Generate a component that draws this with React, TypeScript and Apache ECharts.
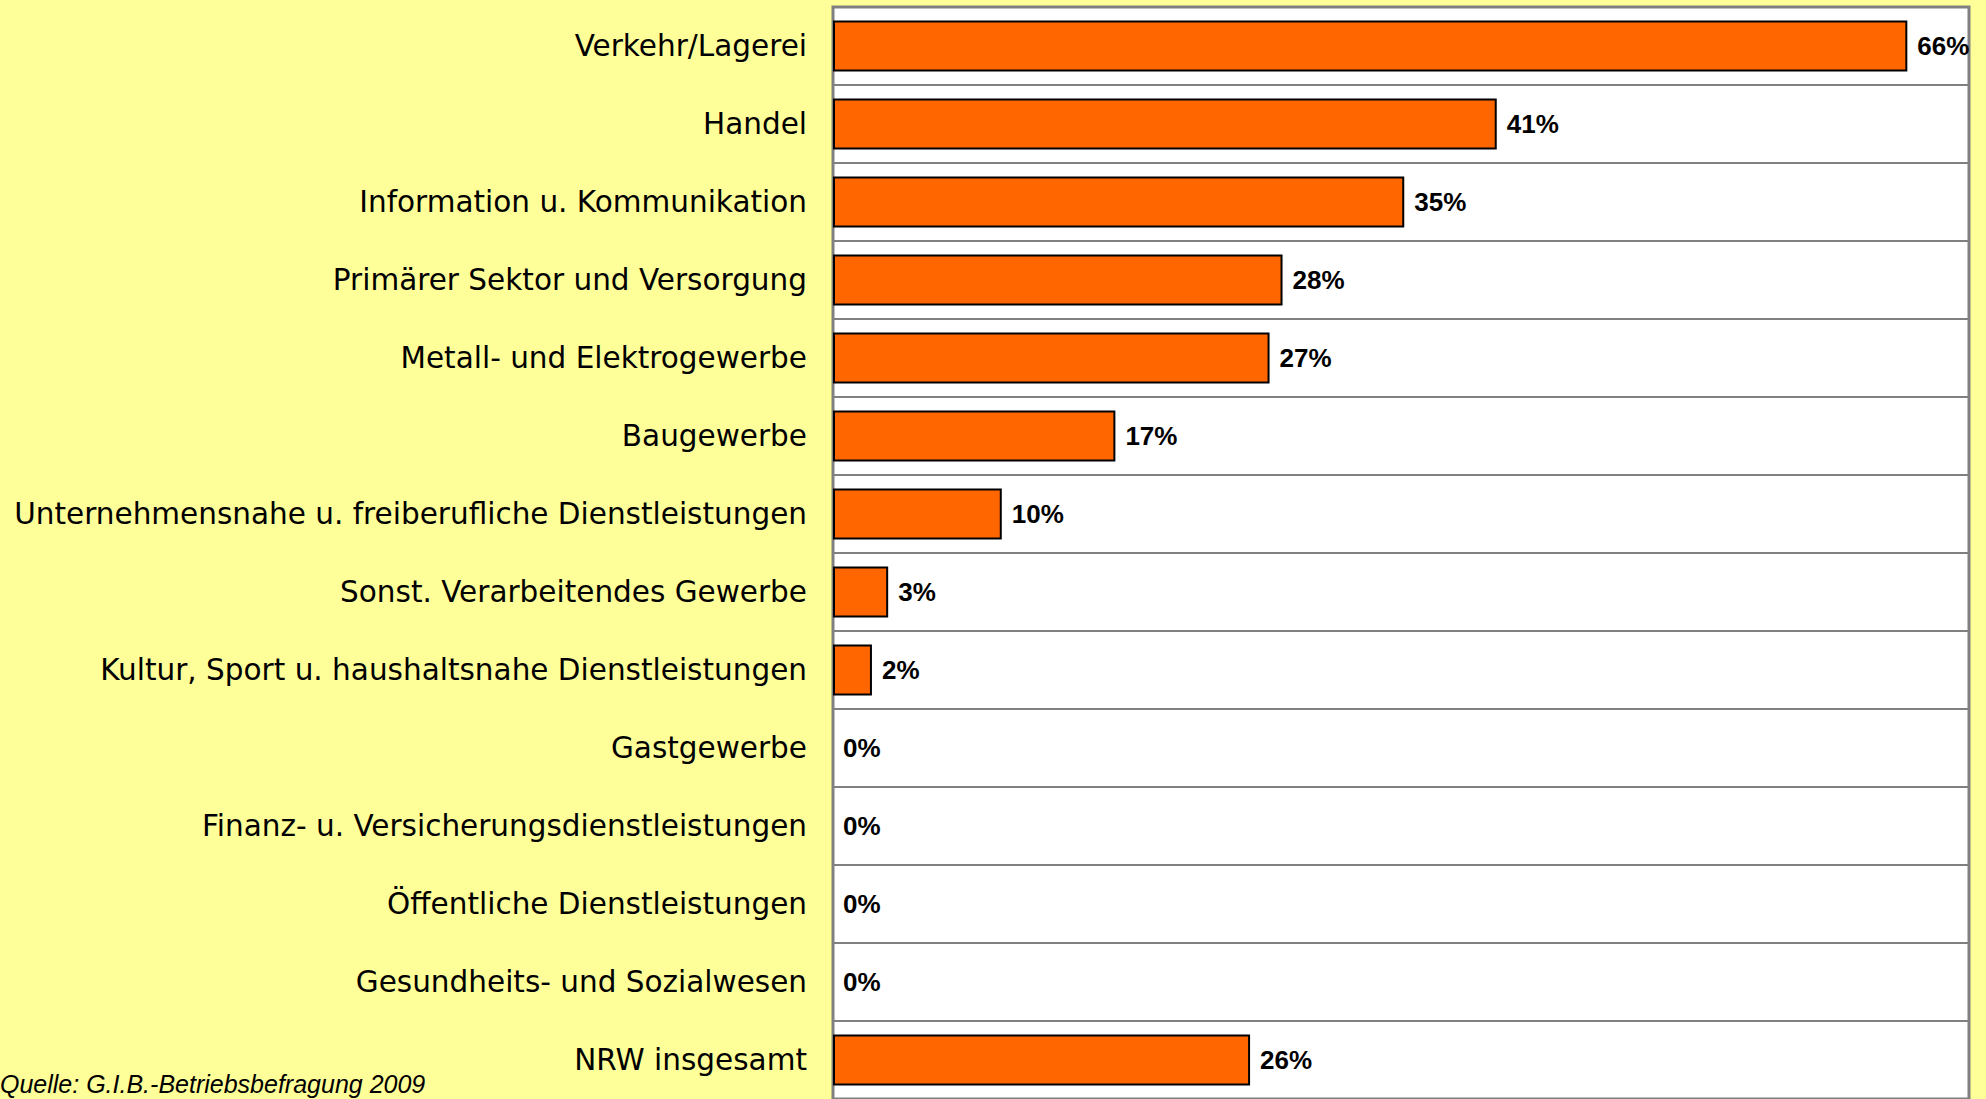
import React, { useEffect, useRef } from "react";
import * as echarts from "echarts";

const categories = [
  "Verkehr/Lagerei",
  "Handel",
  "Information u. Kommunikation",
  "Primärer Sektor und Versorgung",
  "Metall- und Elektrogewerbe",
  "Baugewerbe",
  "Unternehmensnahe u. freiberufliche Dienstleistungen",
  "Sonst. Verarbeitendes Gewerbe",
  "Kultur, Sport u. haushaltsnahe Dienstleistungen",
  "Gastgewerbe",
  "Finanz- u. Versicherungsdienstleistungen",
  "Öffentliche Dienstleistungen",
  "Gesundheits- und Sozialwesen",
  "NRW insgesamt",
];

const values = [66.2, 40.9, 35.2, 27.7, 26.9, 17.4, 10.4, 3.4, 2.4, 0, 0, 0, 0, 25.7];

const sourceText = "Quelle: G.I.B.-Betriebsbefragung 2009";

const FONT = "'Liberation Sans', Arial, Helvetica, sans-serif";
const LABEL_FONT = "'DejaVu Sans', 'Liberation Sans', Arial, sans-serif";

export default function App() {
  const ref = useRef<HTMLDivElement>(null);

  useEffect(() => {
    if (!ref.current) return;
    const chart = echarts.init(ref.current, undefined, { renderer: "svg" });
    chart.setOption({
      animation: false,
      backgroundColor: "#FFFF99",
      grid: {
        left: 833,
        top: 7,
        width: 1136,
        height: 1099,
        show: true,
        backgroundColor: "#FFFFFF",
        borderColor: "#808080",
        borderWidth: 3,
        containLabel: false,
      },
      xAxis: {
        type: "value",
        min: 0,
        max: 70,
        axisLabel: { show: false },
        axisLine: { show: false },
        axisTick: { show: false },
        splitLine: { show: false },
      },
      yAxis: {
        type: "category",
        inverse: true,
        data: categories,
        axisLine: { show: false },
        axisTick: { show: false },
        axisLabel: {
          fontSize: 29.5,
          color: "#000000",
          fontFamily: LABEL_FONT,
          margin: 26,
        },
        splitLine: { show: true, lineStyle: { color: "#808080", width: 2 } },
      },
      series: [
        {
          type: "bar",
          barWidth: 51,
          data: values.map((v) => ({
            value: v,
            itemStyle: {
              color: "#FF6600",
              borderColor: "#000000",
              borderWidth: v > 0 ? 2 : 0,
            },
          })),
          label: {
            show: true,
            position: "right",
            distance: 10,
            fontSize: 26,
            fontWeight: "bold",
            color: "#000000",
            fontFamily: FONT,
            formatter: (p: any) => Math.round(p.value) + "%",
          },
        },
      ],
      graphic: [
        {
          type: "text",
          left: 0,
          top: 1071,
          style: {
            text: sourceText,
            fontSize: 25,
            fontStyle: "italic",
            fontFamily: FONT,
            fill: "#000000",
          },
        },
      ],
    });
    return () => chart.dispose();
  }, []);

  return (
    <div
      ref={ref}
      style={{ position: "fixed", left: 0, top: 0, width: 1986, height: 1099 }}
    />
  );
}
